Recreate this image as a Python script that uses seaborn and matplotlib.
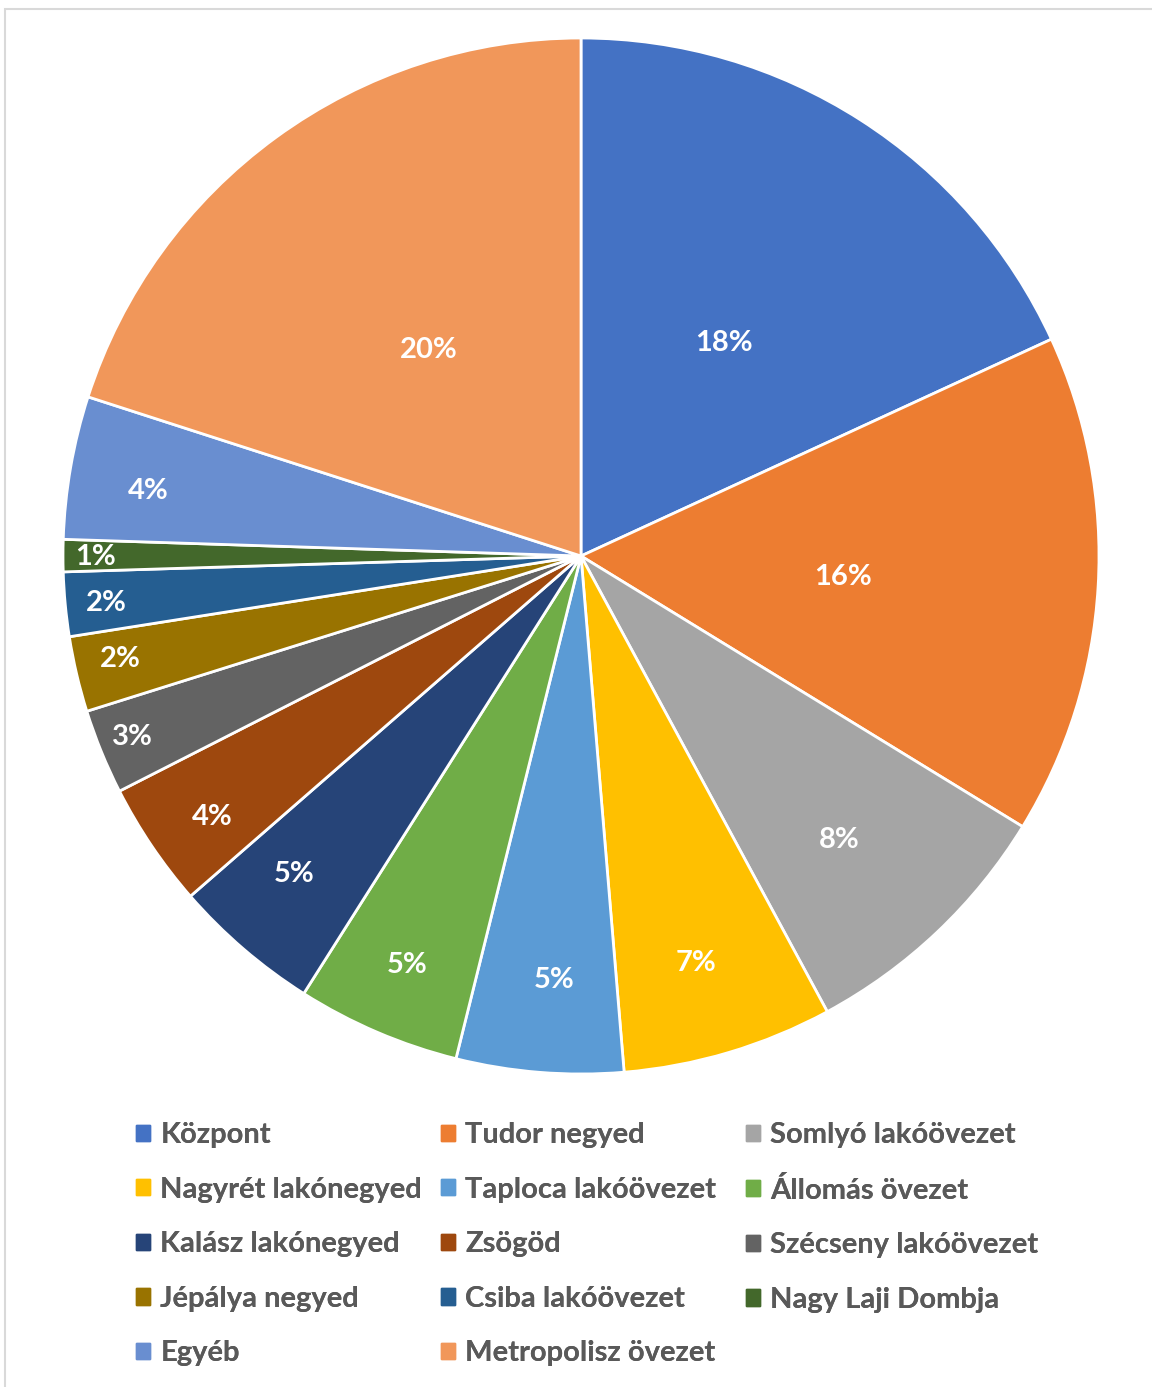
import matplotlib.pyplot as plt
import matplotlib.patches as mpatches
import numpy as np
import seaborn as sns

districts = ['Központ', 'Tudor negyed', 'Somlyó lakóövezet', 'Nagyrét lakónegyed',
             'Taploca lakóövezet', 'Állomás övezet', 'Kalász lakónegyed', 'Zsögöd',
             'Szécseny lakóövezet', 'Jépálya negyed', 'Csiba lakóövezet',
             'Nagy Laji Dombja', 'Egyéb', 'Metropolisz övezet']
shares = [18.1, 15.6, 8.35, 6.55, 5.2, 5.1, 4.6, 3.9, 2.65, 2.35, 2.0, 1.0, 4.45, 20.0]
colors = ['#4472C4', '#ED7D31', '#A5A5A5', '#FFC000', '#5B9BD5', '#70AD47',
          '#264478', '#9E480E', '#636363', '#997300', '#255E91', '#43682B',
          '#698ED0', '#F1975A']
# Excel "best fit" label placement: fraction of radius, and where along the
# wedge (0 = start, 0.5 = middle, 1 = end, clockwise)
label_r = [0.50, 0.507, 0.738, 0.811, 0.816, 0.853, 0.824, 0.870,
           0.932, 0.910, 0.921, 0.938, 0.845, 0.498]
label_frac = [0.515, 0.51, 0.53, 0.53, 0.45, 0.50, 0.60, 0.43,
              0.55, 0.61, 0.50, 0.54, 0.44, 0.50]

sns.set_theme(style='white')
plt.rcParams['font.family'] = ['Lato', 'DejaVu Sans']
plt.rcParams['font.weight'] = 'bold'

W, H = 1152, 1387
fig = plt.figure(figsize=(W / 100, H / 100), dpi=100)

cx, cy, R = 581, 556, 518
ax = fig.add_axes([(cx - R) / W, (H - cy - R) / H, 2 * R / W, 2 * R / H])
wedges, _, autotexts = ax.pie(
    shares, colors=colors, startangle=90, counterclock=False,
    autopct='%.0f%%', wedgeprops=dict(edgecolor='white', linewidth=2),
    textprops=dict(color='white', fontsize=21, fontweight='bold'))
ax.set_xlim(-1, 1)
ax.set_ylim(-1, 1)
ax.set_aspect('equal')
ax.axis('off')

for w, t, r, f in zip(wedges, autotexts, label_r, label_frac):
    # clockwise wedges: theta2 is the start, theta1 the end
    ang = np.deg2rad(w.theta2 - f * (w.theta2 - w.theta1))
    t.set_position((r * np.cos(ang), r * np.sin(ang)))
    t.set_ha('center')
    t.set_va('center_baseline')

# legend: three columns filled row by row, like Excel
col_x = [136, 441, 746]
for c in range(3):
    idx = list(range(c, len(districts), 3))
    handles = [mpatches.Patch(color=colors[i], label=districts[i]) for i in idx]
    leg = fig.legend(handles=handles, loc='upper left',
                     bbox_to_anchor=(col_x[c] / W, 1 - 1122 / H),
                     frameon=False, borderpad=0, borderaxespad=0,
                     handlelength=0.48, handleheight=0.48, handletextpad=0.35,
                     labelspacing=0.98, prop=dict(size=21, weight='bold'),
                     labelcolor='#595959')
    fig.add_artist(leg)

# light chart-area border (top and left visible)
fig.add_artist(mpatches.Rectangle((5 / W, -0.01), 1.02, 1 - 9 / H + 0.01,
                                  transform=fig.transFigure, fill=False,
                                  edgecolor='#D9D9D9', linewidth=1.5))

fig.savefig('out.png', dpi=100)
